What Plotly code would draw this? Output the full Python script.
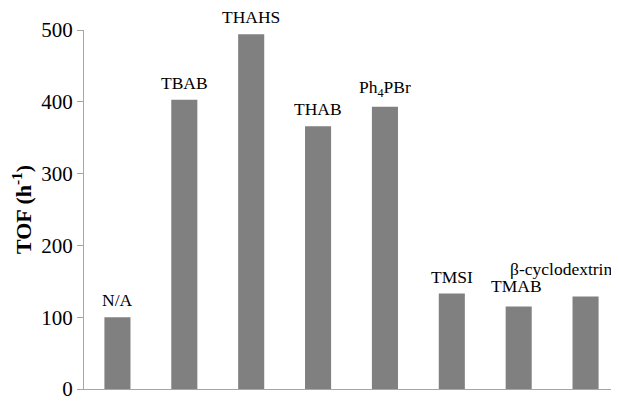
import plotly.graph_objects as go

categories = ["N/A", "TBAB", "THAHS", "THAB", "Ph<sub>4</sub>PBr", "TMSI", "TMAB", "β-cyclodextrin"]
tof_values = [100, 403, 494, 366, 393, 133, 115, 129]
label_xshift = [0, 0, 0, 0, 0, 0, -2, -25]
label_yshift = [5, 5, 5, 5, 5, 5, 8, 15]
y_ticks = [0, 100, 200, 300, 400, 500]

serif = "Liberation Serif, Times New Roman, serif"

fig = go.Figure()
fig.add_trace(go.Bar(
    x=categories, y=tof_values,
    marker=dict(color="#808080", line=dict(width=0)),
    width=0.39,
))

for c, v, xs, ys in zip(categories, tof_values, label_xshift, label_yshift):
    fig.add_annotation(x=c, y=v, text=c, showarrow=False, yanchor="bottom",
                       xshift=xs, yshift=ys,
                       font=dict(family=serif, size=17.5, color="black"))

fig.update_layout(
    width=611, height=393,
    margin=dict(l=76, r=0, t=22, b=9),
    plot_bgcolor="white", paper_bgcolor="white",
    showlegend=False,
    bargap=0.6,
)
fig.update_xaxes(showticklabels=False, ticks="", showgrid=False, zeroline=False,
                 showline=True, linecolor="#a6a6a6", linewidth=1)
fig.update_yaxes(range=[0, 500], tickvals=y_ticks, showgrid=False, zeroline=False,
                 showline=True, linecolor="#a6a6a6", linewidth=1,
                 ticks="outside", ticklen=6, tickcolor="#a6a6a6",
                 ticklabeloverflow="allow",
                 tickfont=dict(family=serif, size=21, color="black"),
                 title=dict(text="<b>TOF (h<sup>-1</sup>)</b>", standoff=5,
                            font=dict(family=serif, size=22, color="black")))

fig.write_html("out.html")
